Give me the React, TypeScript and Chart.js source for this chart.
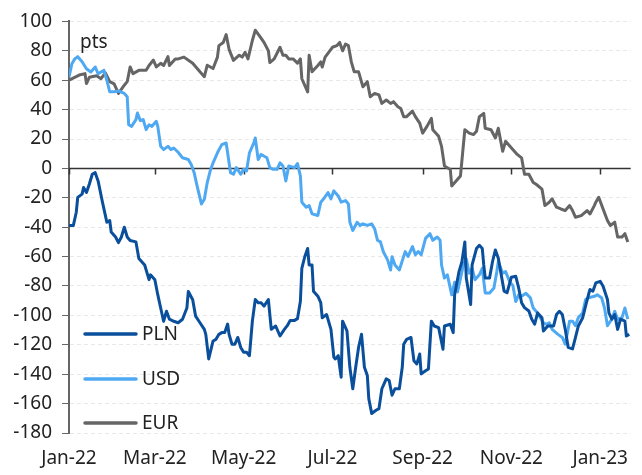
import React, { useEffect, useRef } from "react";
import { Chart, registerables } from "chart.js";

Chart.register(...registerables);

// x values are days since 1 Jan 2022
const plnDays = [0,3,5,6,9,10,12,14,16,18,20,23,24,26,28,29,32,34,36,38,40,42,46,48,52,55,56,59,61,63,65,67,69,72,75,78,81,82,85,87,90,93,94,96,99,101,103,105,107,109,110,112,114,116,118,120,122,124,126,128,130,132,134,137,139,142,145,148,150,152,155,157,159,160,162,164,165,167,168,171,173,174,177,180,182,183,185,187,188,191,193,195,197,199,201,203,205,206,208,211,213,215,218,220,222,224,227,229,230,232,235,237,239,241,242,245,247,249,251,254,257,258,262,264,265,268,270,272,273,276,277,280,282,284,285,286,289,291,293,295,297,299,301,304,307,309,311,313,316,318,320,322,325,326,329,333,335,337,339,341,343,346,348,350,353,355,357,358,360,362,365,367,370,371,373,375,377,379,382,383,385];
const plnValues = [-38.8,-38.8,-29.8,-19.7,-17.5,-13,-16.4,-10.6,-4,-2.9,-8.5,-23,-27.5,-36.6,-35.5,-43.3,-46.7,-50.5,-46.7,-40,-46.7,-49,-50,-61.3,-65.7,-75.7,-72.4,-75.7,-85.9,-95,-104,-97.2,-102.6,-104,-105,-102.6,-95,-83.7,-89.4,-100.5,-105,-109.5,-112.9,-129.6,-117.4,-116.3,-112.9,-111.7,-111.7,-105.9,-112.9,-119.6,-119.6,-115,-121.8,-125.1,-125.1,-127.4,-103.9,-89.2,-91.4,-91.4,-93.7,-89.2,-109.5,-107.2,-114,-109.5,-107,-103.4,-103.4,-102.2,-90.4,-68,-60.1,-54.5,-65.7,-65.7,-83.5,-86.9,-91.3,-101.6,-99.4,-109.5,-128.5,-129.6,-127.4,-142,-103.9,-110.6,-135.3,-149.9,-135.3,-121.7,-112.8,-135.3,-140.9,-156.6,-166.7,-164.5,-163.4,-149.9,-143.2,-144.3,-154.3,-149.9,-149.9,-135.3,-119.6,-116.3,-115,-130.8,-133,-126.3,-139.8,-137.6,-136.4,-103.9,-107.2,-108.3,-123,-107.2,-106,-111.7,-85.9,-70.2,-63.5,-50,-74.6,-92.6,-65.7,-54.5,-52.3,-54.5,-65.7,-74.6,-74.6,-63.5,-55.5,-61.1,-72.4,-83.5,-84.6,-74,-73.4,-81.3,-91.4,-94.7,-97,-102.6,-106,-98.3,-101.6,-110.6,-107.2,-107.2,-99.4,-97.2,-99.4,-109.5,-121.7,-122.8,-115.2,-107.2,-101.6,-93.6,-85.8,-82.4,-83.5,-77.9,-76.8,-80.2,-89.2,-98.3,-102.6,-99.4,-109.5,-102.6,-103.9,-114,-112.9];

const usdDays = [0,2,4,6,9,12,15,18,20,22,24,26,28,31,34,38,40,41,43,46,47,49,51,53,55,57,60,61,63,65,68,70,72,75,78,82,84,86,88,91,93,95,97,99,102,105,108,109,111,113,115,118,120,122,124,127,128,130,132,136,138,140,143,145,147,149,151,155,157,159,160,163,165,167,171,173,175,178,180,182,185,187,190,192,193,195,198,200,202,205,208,210,212,214,216,219,221,222,224,227,231,233,236,238,240,242,245,248,250,253,255,256,258,260,263,265,267,271,273,275,277,279,282,284,286,289,292,294,295,298,300,303,305,307,309,311,314,317,319,322,326,328,330,332,336,339,341,344,346,348,350,353,355,357,361,363,366,368,370,373,375,377,380,382,384];
const usdValues = [62,71.2,74.5,76,72.6,67.8,65.6,69,64.4,65.6,66.7,60,52.1,52.1,52.7,51,48.8,29.7,28.6,33.2,37.7,32.5,33.2,26.4,29.7,28.6,32,28.6,15,12.8,15,12.8,13.9,11,7.2,6.1,2.7,-2.9,-11.9,-24.2,-21,-9.6,-1.8,3.8,10.6,16.2,17.3,10.6,-2.9,-4,0.5,-4,-0.6,-1.8,10.6,17.3,20.7,6.1,9.5,7.2,0.5,-0.6,-0.6,3.8,1.6,-8.5,1.6,0.5,3.3,-5.1,-23,-26.4,-25.3,-30.9,-32,-23,-20.7,-16.4,-20.7,-15.3,-18.7,-23,-21.9,-24.2,-36.6,-42.2,-36.6,-38.8,-37.7,-38.8,-37.7,-41,-48.9,-50,-56.7,-62.4,-69.1,-60.1,-65.7,-69.1,-56.6,-59.9,-53.2,-58.8,-56.6,-58.8,-47.6,-44.4,-48.9,-46.7,-48.9,-65.7,-74.6,-72.4,-86,-77.5,-84,-65.7,-61.3,-71.3,-68,-75.7,-72.4,-68,-84.7,-84.7,-81.3,-70.2,-63.5,-71.3,-70.2,-77.5,-79.7,-90.6,-86,-87,-85,-88,-95,-98.3,-105,-106,-105,-109.5,-112.9,-115,-119.6,-103.9,-103.9,-107,-101.5,-98.3,-89.2,-88,-87,-86,-88,-95,-107,-102.6,-97.2,-102.6,-101.5,-95,-102.6];

const eurDays = [0,7,11,12,14,19,22,25,28,31,34,38,40,42,44,48,53,55,58,60,63,65,68,69,73,75,79,85,90,93,95,99,102,103,106,108,110,113,117,119,121,123,126,128,131,134,137,138,141,145,147,149,151,154,157,159,160,164,165,167,171,173,174,176,181,184,186,188,190,192,194,196,199,202,205,207,210,213,215,218,221,223,226,228,230,232,236,238,241,243,246,249,250,254,256,258,262,263,266,269,272,275,278,280,282,285,286,290,293,295,298,300,303,308,311,313,316,319,321,325,327,330,332,335,338,341,344,346,348,352,356,358,361,362,364,367,370,372,375,377,380,382,384];
const eurValues = [60,63.5,64.5,57.7,62,63,61,65,59,57.5,51,56.6,59,69,64.5,66.7,66.7,70,73.7,69,71.5,70,76,70,74.5,74.5,75.7,71.5,65.7,62.4,70.2,68,75.7,83.5,85.7,91,81,73.5,77,75.7,79,74.5,87,94,90,85.7,80,72,74.5,82.4,77,77,74.5,74.5,71.6,74.5,61,52,77,65.7,70,72.5,69,75.7,82.4,83.5,85.7,80,84.6,83.5,72.5,65.7,65.7,55.5,59,48.7,51,50,44.2,46.5,44.2,45.4,42,40.8,35.2,35.2,39,35.2,30.8,24,28.6,34,26.3,21.8,15,1.6,-0.7,-11.9,-8.5,-5.1,26.3,24,23,25.2,35.2,37.4,27.3,26.3,20.7,27.3,11.7,18.4,15,9.5,7.2,-4,-4,-9.6,-10.8,-14.1,-25.3,-23,-20.7,-26.4,-27.6,-28.7,-25.3,-28.7,-33.2,-32.1,-28.7,-31,-25.3,-23,-19.6,-27.6,-35.4,-38.8,-36.6,-46.7,-46.7,-44.4,-50];

const seriesNames = ["PLN", "USD", "EUR"];
const seriesColors = ["#0a4f9c", "#4fa9f2", "#656565"];

const tickDays = [0, 59, 120, 181, 243, 304, 365];
const tickLabels = ["Jan-22", "Mar-22", "May-22", "Jul-22", "Sep-22", "Nov-22", "Jan-23"];

const yMin = -180;
const yMax = 100;
const yStep = 20;
const unitLabel = "pts";

const FONT = "'Noto Sans', sans-serif";

const toPoints = (days: number[], vals: number[]) => days.map((d, i) => ({ x: d, y: vals[i] }));

const decorPlugin = {
  id: "decor",
  beforeDatasetsDraw(chart: any) {
    const { ctx, chartArea, scales } = chart;
    const y0 = scales.y.getPixelForValue(0);
    ctx.save();
    ctx.strokeStyle = "#333";
    ctx.lineWidth = 1.5;
    ctx.beginPath();
    ctx.moveTo(chartArea.left, y0);
    ctx.lineTo(chartArea.right, y0);
    for (const d of tickDays) {
      const px = Math.round(scales.x.getPixelForValue(d)) + 0.5;
      ctx.moveTo(px, y0);
      ctx.lineTo(px, y0 + 6);
    }
    ctx.stroke();
    ctx.restore();
  },
  afterDatasetsDraw(chart: any) {
    const { ctx, chartArea } = chart;
    ctx.save();
    ctx.font = `19px ${FONT}`;
    ctx.fillStyle = "#222";
    ctx.textBaseline = "middle";
    ctx.textAlign = "left";
    ctx.fillText(unitLabel, chartArea.left + 11, chartArea.top + 21);
    const offsets = [99, 54, 10];
    chart.data.datasets.forEach((ds: any, i: number) => {
      const y = chartArea.bottom - offsets[i];
      ctx.strokeStyle = ds.borderColor;
      ctx.lineWidth = 3.5;
      ctx.lineCap = "round";
      ctx.beginPath();
      ctx.moveTo(chartArea.left + 16, y);
      ctx.lineTo(chartArea.left + 67, y);
      ctx.stroke();
      ctx.fillText(ds.label, chartArea.left + 73, y + 1);
    });
    ctx.restore();
  },
};

export default function App() {
  const ref = useRef<HTMLCanvasElement | null>(null);
  useEffect(() => {
    if (!ref.current) return;
    const chart = new Chart(ref.current, {
      type: "line",
      data: {
        datasets: [
          { label: seriesNames[0], data: toPoints(plnDays, plnValues), borderColor: seriesColors[0] },
          { label: seriesNames[1], data: toPoints(usdDays, usdValues), borderColor: seriesColors[1] },
          { label: seriesNames[2], data: toPoints(eurDays, eurValues), borderColor: seriesColors[2] },
        ].map((d) => ({
          ...d,
          borderWidth: 3,
          pointRadius: 0,
          tension: 0,
          fill: false,
          borderJoinStyle: "round" as const,
        })),
      },
      options: {
        animation: false,
        responsive: true,
        maintainAspectRatio: false,
        layout: { padding: { top: 17, right: 2, left: 0, bottom: 0 } },
        plugins: { legend: { display: false }, tooltip: { enabled: false } },
        scales: {
          x: {
            type: "linear",
            min: 0,
            max: 386,
            grid: { display: false, drawTicks: false },
            border: { display: false },
            afterBuildTicks: (s: any) => {
              s.ticks = tickDays.map((v) => ({ value: v }));
            },
            afterFit: (s: any) => {
              s.height = 42;
            },
            ticks: {
              autoSkip: false,
              maxRotation: 0,
              padding: 14,
              color: "#222",
              font: { family: FONT, size: 19 },
              callback: (v: any) => {
                const i = tickDays.indexOf(Number(v));
                return i >= 0 ? tickLabels[i] : "";
              },
            },
          },
          y: {
            min: yMin,
            max: yMax,
            afterFit: (s: any) => {
              s.width = 69;
            },
            ticks: {
              stepSize: yStep,
              padding: 10,
              color: "#222",
              font: { family: FONT, size: 19 },
            },
            grid: {
              color: (c: any) => (c.tick && c.tick.value === 0 ? "rgba(0,0,0,0)" : "#e8e8e8"),
              tickColor: "#666",
              tickLength: 7,
              lineWidth: 1,
            },
            border: { display: true, color: "#666", width: 2, dash: [4, 3] },
          },
        },
      },
      plugins: [decorPlugin],
    });
    return () => chart.destroy();
  }, []);
  return (
    <div style={{ position: "absolute", left: 0, top: 0, width: 642, height: 475 }}>
      <canvas ref={ref} />
    </div>
  );
}
